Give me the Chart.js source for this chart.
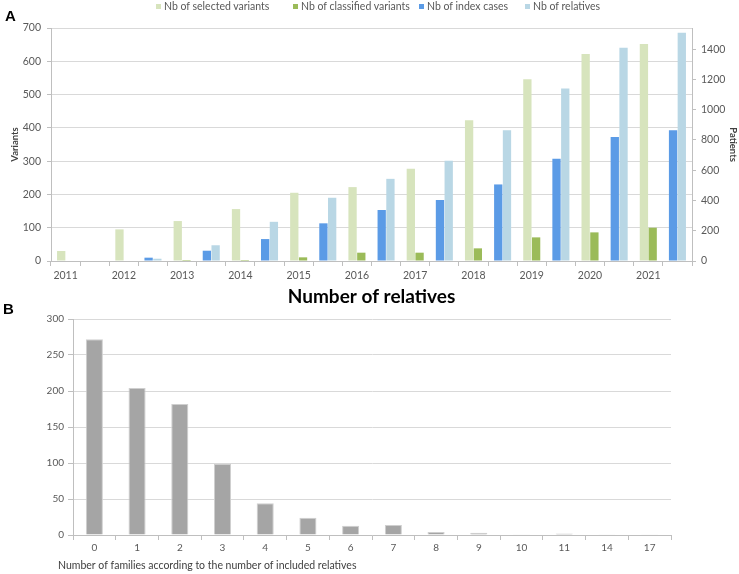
<!DOCTYPE html>
<html><head><meta charset="utf-8">
<script src="https://cdn.jsdelivr.net/npm/chart.js@4/dist/chart.umd.min.js"></script>
<style>
html,body{margin:0;padding:0;background:#fff;}
body{width:739px;height:574px;position:relative;overflow:hidden;font-family:Lato,sans-serif;}
canvas{position:absolute;left:0;}
#ca{top:0;}
#cb{top:300px;}
.panel{position:absolute;z-index:5;font-family:"Liberation Sans",Arial,sans-serif;font-weight:bold;font-size:15px;color:#000;}
.lg{position:absolute;top:0;z-index:5;font-size:10.5px;color:#595959;line-height:12px;white-space:nowrap;font-family:Lato,sans-serif;}
.lg i{display:inline-block;width:5px;height:5px;margin-right:3px;vertical-align:middle;position:relative;top:-1px;}
</style></head>
<body>
<div class="panel" style="left:5px;top:7px">A</div>
<div class="panel" style="left:3px;top:300px">B</div>
<div id="legend"></div>
<canvas id="ca" width="739" height="312" style="width:739px;height:312px"></canvas>
<canvas id="cb" width="739" height="274" style="width:739px;height:274px"></canvas>
<script>
// ---------- Panel A data ----------
const years = ['2011','2012','2013','2014','2015','2016','2017','2018','2019','2020','2021'];
const selectedVariants   = [30, 95, 120, 156, 205, 222, 277, 423, 546, 622, 652];
const classifiedVariants = [0, 0, 3, 3, 11, 25, 25, 38, 71, 86, 100];
const indexCases         = [0, 22, 68, 145, 249, 337, 403, 506, 675, 820, 865];
const relativesCount     = [0, 15, 104, 259, 418, 543, 662, 865, 1140, 1410, 1509];
const seriesNames = ['Nb of selected variants','Nb of classified variants','Nb of index cases','Nb of relatives'];
const variantTicks = [0,100,200,300,400,500,600,700];
const patientTicks = [0,200,400,600,800,1000,1200,1400];
const xTitleA = 'Number of relatives';
const yTitleA = 'Variants';
const y1TitleA = 'Patients';

// ---------- Panel B data ----------
const relativesIncluded = ['0','1','2','3','4','5','6','7','8','9','10','11','14','17'];
const familiesCount     = [272, 204, 182, 99, 44, 24, 13, 14, 4, 3, 1, 2, 1, 1];
const familyTicks = [0,50,100,150,200,250,300];
const xTitleB = 'Number of families according to the number of included relatives';

const colors = ['#d7e4bd','#9bbb59','#5b9be6','#b9d7e5'];
const FONT = 'Lato';
const TICK = '#595959';
const GRID = '#d9d9d9';
const AXIS = '#bfbfbf';
const plain = v => String(v);

// legend (HTML)
const legendX = [156, 293, 419, 525];
const lg = document.getElementById('legend');
seriesNames.forEach((n,i)=>{
  const d = document.createElement('div');
  d.className='lg'; d.style.left = legendX[i]+'px';
  d.innerHTML = '<i style="background:'+colors[i]+'"></i>'+n;
  lg.appendChild(d);
});

// build interleaved categories
const labelsA = [], dSel = [], dCla = [], dIdx = [], dRel = [];
years.forEach((y,i)=>{
  labelsA.push(y, '');
  dSel.push(selectedVariants[i], null);
  dCla.push(classifiedVariants[i], null);
  dIdx.push(null, indexCases[i]);
  dRel.push(null, relativesCount[i]);
});

const barCommon = {categoryPercentage:0.6, barPercentage:0.95, skipNull:true, borderWidth:0};

new Chart(document.getElementById('ca'), {
  type:'bar',
  data:{
    labels: labelsA,
    datasets:[
      Object.assign({label:seriesNames[0], data:dSel, backgroundColor:colors[0], yAxisID:'y'}, barCommon),
      Object.assign({label:seriesNames[1], data:dCla, backgroundColor:colors[1], yAxisID:'y'}, barCommon),
      Object.assign({label:seriesNames[2], data:dIdx, backgroundColor:colors[2], yAxisID:'y1'}, barCommon),
      Object.assign({label:seriesNames[3], data:dRel, backgroundColor:colors[3], yAxisID:'y1'}, barCommon)
    ]
  },
  options:{
    responsive:false, animation:false,
    layout:{padding:{top:28,left:0,right:0,bottom:0}},
    plugins:{legend:{display:false}, tooltip:{enabled:false}},
    scales:{
      x:{
        grid:{offset:true, drawOnChartArea:false, drawTicks:true, tickLength:5, color:AXIS},
        border:{color:AXIS},
        ticks:{autoSkip:false, maxRotation:0, minRotation:0, color:TICK, font:{family:FONT,size:10.5}, padding:3},
        title:{display:true, text:xTitleA, color:'#000', font:{family:FONT,size:19,weight:'bold'}, padding:{top:0,bottom:4}},
        afterFit:s=>{s.height=51;}
      },
      y:{
        position:'left', min:0, max:700,
        afterBuildTicks:s=>{s.ticks = variantTicks.map(v=>({value:v}));},
        grid:{color:GRID, tickLength:4, tickColor:AXIS},
        border:{color:AXIS},
        ticks:{color:TICK, font:{family:FONT,size:10.5}, padding:6, callback:plain},
        title:{display:true, text:yTitleA, color:'#404040', font:{family:FONT,size:9.5,weight:'bold'}, padding:{top:9,bottom:0}},
        afterFit:s=>{s.width=51;}
      },
      y1:{
        position:'right', min:0, max:1540,
        afterBuildTicks:s=>{s.ticks = patientTicks.map(v=>({value:v}));},
        grid:{drawOnChartArea:false, tickLength:4, color:AXIS},
        border:{color:AXIS},
        ticks:{color:TICK, font:{family:FONT,size:10.5}, padding:5, callback:plain},
        title:{display:true, text:y1TitleA, color:'#404040', font:{family:FONT,size:9.5,weight:'bold'}, padding:{top:0,bottom:0}},
        afterFit:s=>{s.width=47;}
      }
    }
  }
});

const titleBPlugin = {
  id:'titleB',
  afterDraw(chart){
    const ctx = chart.ctx;
    ctx.save();
    ctx.font = '10.5px '+FONT;
    ctx.fillStyle = '#404040';
    ctx.textBaseline = 'middle';
    ctx.textAlign = 'left';
    ctx.fillText(xTitleB, 58, 266);
    ctx.restore();
  }
};

new Chart(document.getElementById('cb'), {
  type:'bar',
  data:{
    labels: relativesIncluded,
    datasets:[{
      label:'Families', data:familiesCount,
      backgroundColor:'#a5a5a5', borderColor:'#cfcfcf', borderWidth:1,
      categoryPercentage:0.8, barPercentage:0.5
    }]
  },
  plugins:[titleBPlugin],
  options:{
    responsive:false, animation:false,
    layout:{padding:{top:19,left:0,right:68,bottom:0}},
    plugins:{legend:{display:false}, tooltip:{enabled:false}},
    scales:{
      x:{
        grid:{offset:true, drawOnChartArea:false, drawTicks:true, tickLength:5, color:AXIS},
        border:{color:AXIS},
        ticks:{autoSkip:false, maxRotation:0, color:TICK, font:{family:FONT,size:10}, padding:2},
        afterFit:s=>{s.height=39;}
      },
      y:{
        min:0, max:300,
        afterBuildTicks:s=>{s.ticks = familyTicks.map(v=>({value:v}));},
        grid:{color:GRID, tickLength:5, tickColor:AXIS},
        border:{color:AXIS},
        ticks:{color:TICK, font:{family:FONT,size:10}, padding:4, callback:plain},
        afterFit:s=>{s.width=73;}
      }
    }
  }
});
</script>
</body></html>
